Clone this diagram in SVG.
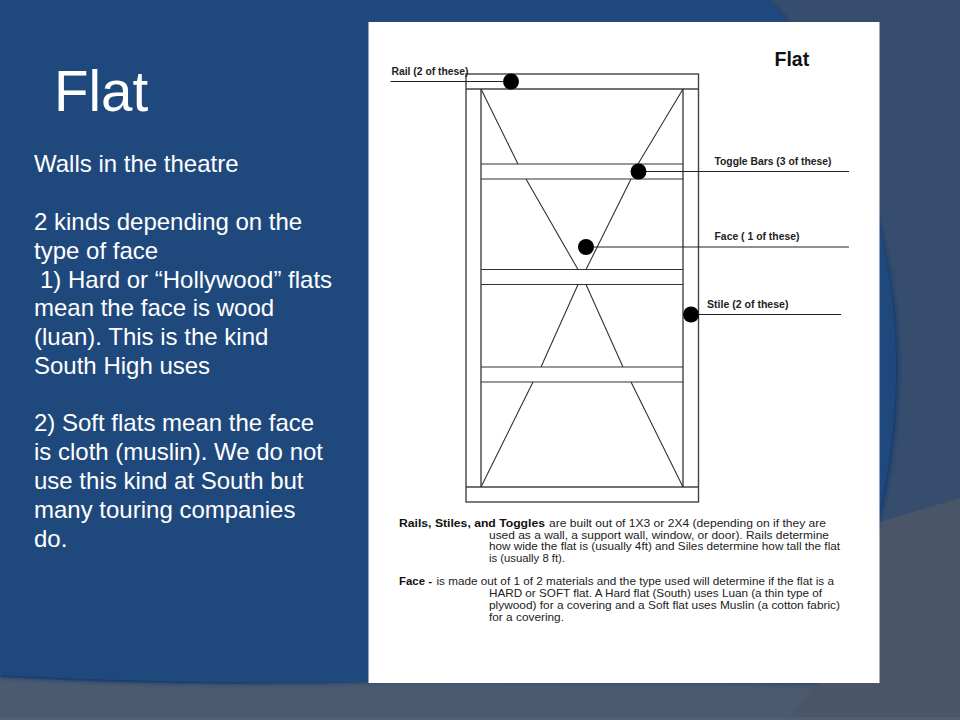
<svg xmlns="http://www.w3.org/2000/svg" width="960" height="720" viewBox="0 0 960 720">
<defs>
<style>
.sl{font-family:"Liberation Sans",Arial,sans-serif;fill:#fff;font-size:24px}
.t{font-family:"Liberation Sans",Arial,sans-serif;fill:#222;font-size:11.6px}
.b{font-weight:bold;fill:#111}
.lb{font-family:"Liberation Sans",Arial,sans-serif;font-weight:bold;font-size:10.4px;fill:#222}
.f{fill:none;stroke:#444;stroke-width:1.4}
.d{fill:none;stroke:#333;stroke-width:1.1}
.c{stroke:#222;stroke-width:1;fill:none}
.dot{fill:#000}
</style>
<filter id="soft" x="-5%" y="-5%" width="110%" height="110%"><feGaussianBlur stdDeviation="2"/></filter>
</defs>
<g id="background">
<rect width="960" height="720" fill="#364d6e"/>
<path d="M0 677 Q200 688 400 681 L880 672 L960 498 V720 H0Z" fill="#4a5a70"/>
<path d="M880 522 L960 498 V720 H787 L816 683 Z" fill="#4a5568"/>
<path d="M0 0 H768 Q830 60 870 190 Q898 280 898 365 Q898 440 882 510 Q860 590 816 683 L400 681 Q200 688 0 677Z" fill="#16386a" filter="url(#soft)"/>
<path d="M0 0 H768 Q830 60 870 190 Q896 280 896 365 Q896 440 880 510 Q858 590 814 683 L400 681 Q200 686 0 675Z" fill="#1f497d"/>
<path d="M0 717 H960 V720 H0Z" fill="#546478" opacity=".6"/>
</g>
<g id="slide-title"><text class="sl" x="54" y="111" style="font-size:56.500px">Flat</text></g>
<g id="slide-body">
<text class="sl" x="34" y="172">Walls in the theatre</text>
<text class="sl" x="34" y="230">2 kinds depending on the</text>
<text class="sl" x="34" y="259">type of face</text>
<text class="sl" x="40" y="288">1) Hard or “Hollywood” flats</text>
<text class="sl" x="34" y="316">mean the face is wood</text>
<text class="sl" x="34" y="345">(luan). This is the kind</text>
<text class="sl" x="34" y="374">South High uses</text>
<text class="sl" x="34" y="431">2) Soft flats mean the face</text>
<text class="sl" x="34" y="460">is cloth (muslin). We do not</text>
<text class="sl" x="34" y="489">use this kind at South but</text>
<text class="sl" x="34" y="518">many touring companies</text>
<text class="sl" x="34" y="547">do.</text>
</g>
<g id="sheet"><rect x="368.500" y="22" width="511" height="661" fill="#fff"/></g>
<g id="flat-frame">
<rect class="f" x="466" y="74" width="232.500" height="428"/>
<path class="f" d="M466 89H698.500M466 487H698.500M481 89V487M683 89V487"/>
<path class="d" d="M481 179H683M481 164H683M481 269.500H683M481 284.500H683M481 367H683M481 382H683"/>
<path class="d" d="M481 89L518 164M526 179L578 269.500M683 89L638 164M631 179L586 269.500M578 284.500L541 367M586 284.500L623 367M533 382L481 487M631 382L683 487"/>
</g>
<g id="connectors">
<path class="c" d="M390.500 81.500H505M638 171.500H849M590 247H849M691 314.500H841"/>
</g>
<g id="rail-callout"><circle class="dot" cx="511" cy="81.500" r="8"/><text class="lb" x="391.500" y="75" textLength="77" lengthAdjust="spacingAndGlyphs">Rail (2 of these)</text></g>
<g id="toggle-callout"><circle class="dot" cx="638.500" cy="171.500" r="8"/><text class="lb" x="714.500" y="165" textLength="117" lengthAdjust="spacingAndGlyphs">Toggle Bars (3 of these)</text></g>
<g id="face-callout"><circle class="dot" cx="586" cy="247" r="8"/><text class="lb" x="714.500" y="240" textLength="85" lengthAdjust="spacingAndGlyphs">Face ( 1 of these)</text></g>
<g id="stile-callout"><circle class="dot" cx="691" cy="314.500" r="8"/><text class="lb" x="707" y="307.500" textLength="81.500" lengthAdjust="spacingAndGlyphs">Stile (2 of these)</text></g>
<g id="sheet-title"><text x="774.500" y="66" style="font-family:'Liberation Sans',Arial,sans-serif;font-weight:bold;font-size:19.500px;fill:#111">Flat</text></g>
<g id="sheet-notes">
<text class="t b" x="399" y="527" textLength="146" lengthAdjust="spacingAndGlyphs">Rails, Stiles, and Toggles</text>
<text class="t" x="549" y="527" textLength="277" lengthAdjust="spacingAndGlyphs">are built out of 1X3 or 2X4 (depending on if they are</text>
<text class="t" x="489" y="538.500" textLength="340" lengthAdjust="spacingAndGlyphs">used as a wall, a support wall, window, or door). Rails determine</text>
<text class="t" x="489" y="550" textLength="351" lengthAdjust="spacingAndGlyphs">how wide the flat is (usually 4ft) and Siles determine how tall the flat</text>
<text class="t" x="489" y="562" textLength="76" lengthAdjust="spacingAndGlyphs">is (usually 8 ft).</text>
<text class="t b" x="399" y="585" textLength="33" lengthAdjust="spacingAndGlyphs">Face -</text>
<text class="t" x="436.500" y="585" textLength="397.500" lengthAdjust="spacingAndGlyphs">is made out of 1 of 2 materials and the type used will determine if the flat is a</text>
<text class="t" x="489" y="597" textLength="333" lengthAdjust="spacingAndGlyphs">HARD or SOFT flat. A Hard flat (South) uses Luan (a thin type of</text>
<text class="t" x="489" y="608.500" textLength="351" lengthAdjust="spacingAndGlyphs">plywood) for a covering and a Soft flat uses Muslin (a cotton fabric)</text>
<text class="t" x="489" y="620.500" textLength="75" lengthAdjust="spacingAndGlyphs">for a covering.</text>
</g>
</svg>
